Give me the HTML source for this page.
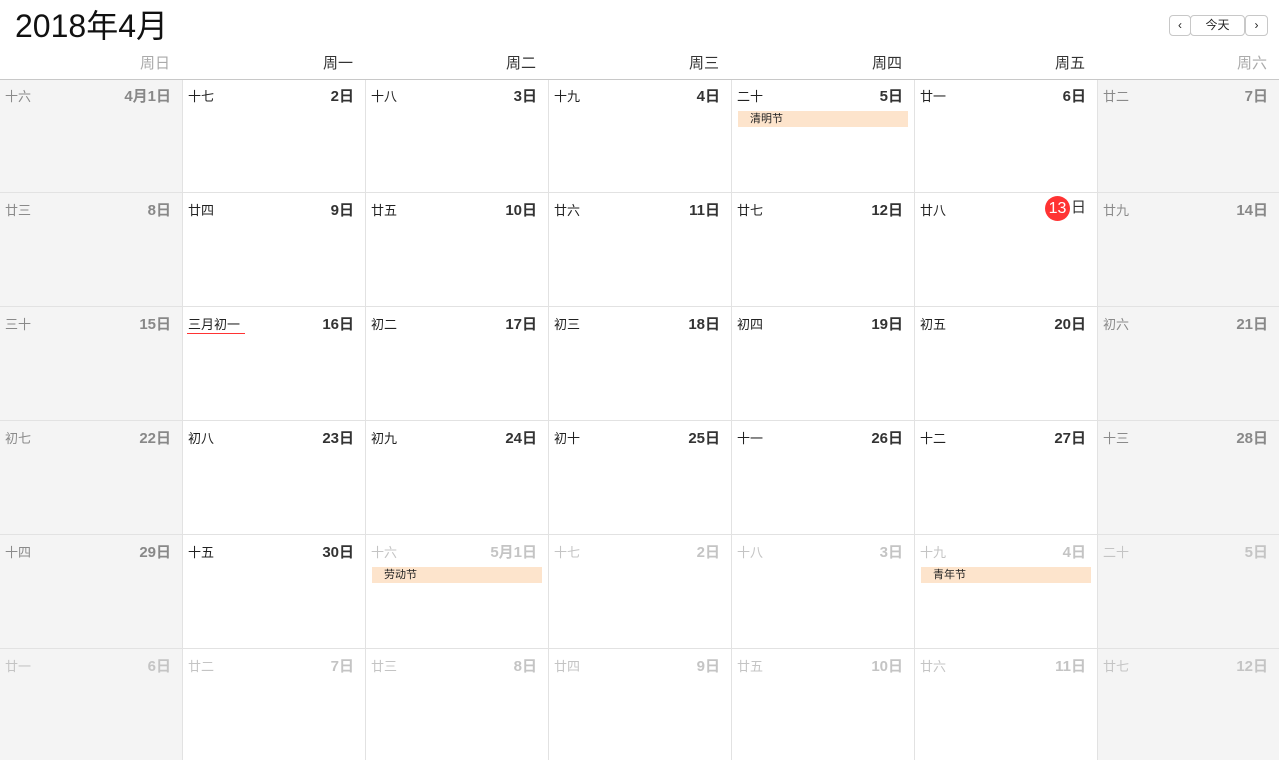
<!DOCTYPE html>
<html><head><meta charset="utf-8">
<style>
body{margin:0;width:1279px;height:760px;overflow:hidden;background:#fff;font-family:"Liberation Sans","Noto Sans CJK SC",sans-serif;position:relative}
.abs{position:absolute}
#title{left:15px;top:4px;font-size:32px;color:#111;line-height:44px}
.btn{position:absolute;top:15px;height:19px;border:1px solid #c8c8c8;border-radius:4px;background:#fff;font-size:12px;line-height:19px;text-align:center;color:#222}
.wh{position:absolute;top:52px;font-size:15px;text-align:right;width:170px;color:#333}
.cell{position:absolute;border-left:1px solid #e2e2e2;border-top:1px solid #e2e2e2;box-sizing:border-box}
.lun{position:absolute;left:5px;top:7px;font-size:13px}
.day{position:absolute;right:11px;top:6px;font-size:15px;text-align:right;font-weight:bold}
.hol{position:absolute;left:6px;top:32px;width:170px;height:16px;background:#fde4cc;font-size:11px;line-height:16px;padding-left:12px;box-sizing:border-box;color:#222}
</style></head><body>
<div id="title" class="abs">2018年4月</div>
<div class="btn" style="left:1169px;width:20px">‹</div>
<div class="btn" style="left:1190px;width:53px">今天</div>
<div class="btn" style="left:1245px;width:21px">›</div>
<div id="grid"></div>
<div class="abs" style="left:0;top:79px;width:1279px;height:1px;background:#c8c8c8;z-index:5"></div>
<script>
const weekdays=["周日","周一","周二","周三","周四","周五","周六"];
const days=["4月1日","2日","3日","4日","5日","6日","7日","8日","9日","10日","11日","12日","13日","14日","15日","16日","17日","18日","19日","20日","21日","22日","23日","24日","25日","26日","27日","28日","29日","30日","5月1日","2日","3日","4日","5日","6日","7日","8日","9日","10日","11日","12日"];
const lunar=["十六","十七","十八","十九","二十","廿一","廿二","廿三","廿四","廿五","廿六","廿七","廿八","廿九","三十","三月初一","初二","初三","初四","初五","初六","初七","初八","初九","初十","十一","十二","十三","十四","十五","十六","十七","十八","十九","二十","廿一","廿二","廿三","廿四","廿五","廿六","廿七"];
const holidays={4:"清明节",30:"劳动节",33:"青年节"};
const todayIdx=12;
const colX=[0,182,365,548,731,914,1097,1279];
const rowY=[79,192,306,420,534,648,760];
const g=document.getElementById('grid');
weekdays.forEach((w,i)=>{
  const d=document.createElement('div');d.className='wh';
  d.style.left=(colX[i+1]-182)+'px';
  d.style.color=(i==0||i==6)?'#aaa':'#333';
  d.textContent=w;
  
  
  document.body.appendChild(d);
});
days.forEach((t,i)=>{
  const c=i%7,r=Math.floor(i/7);
  const cur=i<30, we=(c==0||c==6);
  const el=document.createElement('div');el.className='cell';
  el.style.left=colX[c]+'px';el.style.top=rowY[r]+'px';
  el.style.width=(colX[c+1]-colX[c])+'px';el.style.height=(rowY[r+1]-rowY[r])+'px';
  if(c==0)el.style.borderLeft='none';
  if(r==0)el.style.borderTop='none';
  el.style.background=we?'#f4f4f4':'#fff';
  
  
  const l=document.createElement('div');l.className='lun';l.textContent=lunar[i];
  l.style.color=cur?(we?'#8a8a8a':'#222'):'#c4c4c4';
  
  
  el.appendChild(l);
  if(i==15){
    const u=document.createElement('div');
    u.style.cssText='position:absolute;left:4px;top:26px;width:58px;height:1px;background:#f33';
    
    
    el.appendChild(u);
  }
  const d=document.createElement('div');d.className='day';
  d.style.color=cur?(we?'#888':'#333'):'#c4c4c4';
  if(i==todayIdx){
    d.innerHTML='<span style="display:inline-block;width:25px;height:25px;border-radius:50%;background:#f33;color:#fff;text-align:center;line-height:25px;margin-right:1px;font-weight:normal;font-size:16px;position:relative;top:1px">13</span>日';
    d.style.right='11px';d.style.top='2px';d.style.fontWeight='normal';
  } else d.textContent=t;
  
  
  el.appendChild(d);
  if(holidays[i]){
    const h=document.createElement('div');h.className='hol';h.textContent=holidays[i];
    
    
    el.appendChild(h);
  }
  g.appendChild(el);
});
</script>
</body></html>
